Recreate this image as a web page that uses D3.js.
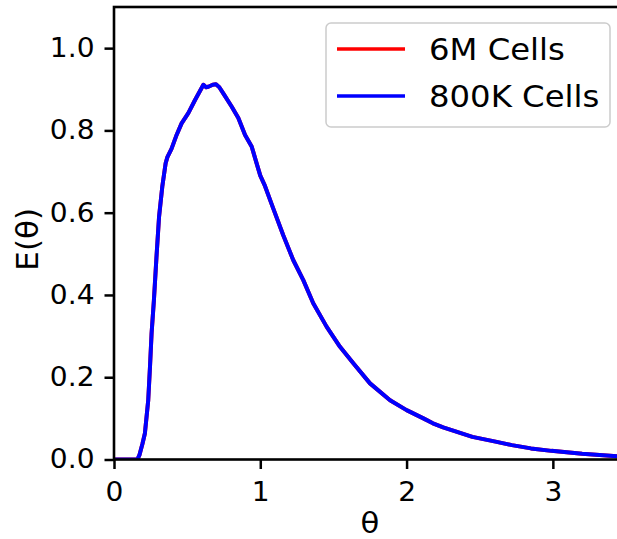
<!DOCTYPE html>
<html>
<head>
<meta charset="utf-8">
<script src="https://cdn.jsdelivr.net/npm/d3@7/dist/d3.min.js"></script>
<style>
  html, body { margin: 0; padding: 0; background: #fff; }
  svg { display: block; }
  text { font-family: "DejaVu Sans", sans-serif; fill: #000; }
</style>
</head>
<body>
<svg id="chart" width="617" height="539"></svg>
<script>
// Residence-time distribution E(θ) for two mesh resolutions
const theta = [0, 0.16, 0.175, 0.195, 0.211, 0.234, 0.246, 0.257, 0.273, 0.29, 0.308, 0.33, 0.353, 0.365,
  0.393, 0.428, 0.462, 0.508, 0.554, 0.611, 0.63, 0.645, 0.675, 0.697, 0.72, 0.747, 0.804, 0.85, 0.896,
  0.941, 0.975, 1.0, 1.032, 1.089, 1.157, 1.225, 1.294, 1.362, 1.453, 1.545, 1.636, 1.75, 1.887, 2.0,
  2.115, 2.18, 2.25, 2.45, 2.6, 2.72, 2.85, 2.99, 3.2, 3.44, 3.5];
const cells6M = [0, 0, 0.012, 0.039, 0.063, 0.144, 0.225, 0.307, 0.388, 0.49, 0.59, 0.663, 0.72, 0.735,
  0.755, 0.789, 0.817, 0.842, 0.874, 0.911, 0.905, 0.906, 0.911, 0.912, 0.905, 0.89, 0.858, 0.83, 0.789,
  0.761, 0.72, 0.69, 0.665, 0.61, 0.545, 0.485, 0.436, 0.38, 0.323, 0.274, 0.234, 0.185, 0.144, 0.12,
  0.1, 0.088, 0.078, 0.055, 0.044, 0.035, 0.027, 0.021, 0.014, 0.008, 0.007];
const cells800K = [0, 0, 0.012, 0.039, 0.063, 0.144, 0.225, 0.307, 0.388, 0.49, 0.59, 0.663, 0.72, 0.735,
  0.755, 0.789, 0.817, 0.842, 0.874, 0.911, 0.905, 0.906, 0.911, 0.912, 0.905, 0.89, 0.858, 0.83, 0.789,
  0.761, 0.72, 0.69, 0.665, 0.61, 0.545, 0.485, 0.436, 0.38, 0.323, 0.274, 0.234, 0.185, 0.144, 0.12,
  0.1, 0.088, 0.078, 0.055, 0.044, 0.035, 0.027, 0.021, 0.014, 0.008, 0.007];
const seriesNames = ["6M Cells", "800K Cells"];
const seriesColors = ["#ff0000", "#0000ff"];
const xTicks = [0, 1, 2, 3];
const yTicks = [0.0, 0.2, 0.4, 0.6, 0.8, 1.0];

const svg = d3.select("#chart");
const plot = { left: 114, right: 626, top: 7, bottom: 459.5 };
const stretch = 1.06; // glyphs are set slightly wide

// widen a text element horizontally about its own anchor x
function widen(sel) {
  sel.attr("transform", function () {
    const x0 = +this.getAttribute("x") || 0;
    return `translate(${x0 * (1 - stretch)},0) scale(${stretch},1)`;
  });
}

const x = d3.scaleLinear().domain([0, 3.5]).range([plot.left, plot.right]);
const y = d3.scaleLinear().domain([0, 1.1]).range([plot.bottom, plot.top]);

// curves
svg.append("clipPath").attr("id", "plotclip")
  .append("rect").attr("x", plot.left).attr("y", plot.top)
  .attr("width", plot.right - plot.left).attr("height", plot.bottom - plot.top);

const line = d3.line().x(d => x(d[0])).y(d => y(d[1]));
const series = [cells6M, cells800K];
series.forEach((vals, i) => {
  svg.append("path")
    .datum(theta.map((t, k) => [t, vals[k]]))
    .attr("clip-path", "url(#plotclip)")
    .attr("fill", "none")
    .attr("stroke", seriesColors[i])
    .attr("stroke-width", 4)
    .attr("stroke-linejoin", "round")
    .attr("d", line);
});

// axes
const xAxis = svg.append("g").attr("transform", `translate(0,${plot.bottom})`)
  .call(d3.axisBottom(x).tickValues(xTicks).tickFormat(d3.format("d"))
    .tickSize(9.5).tickPadding(13).tickSizeOuter(0));
const yAxis = svg.append("g").attr("transform", `translate(${plot.left},0)`)
  .call(d3.axisLeft(y).tickValues(yTicks).tickFormat(d3.format(".1f"))
    .tickSize(9.5).tickPadding(10).tickSizeOuter(0));
[xAxis, yAxis].forEach(g => {
  g.selectAll(".domain").remove();
  g.selectAll(".tick line").attr("stroke", "#000").attr("stroke-width", 2.5);
  g.selectAll(".tick text").attr("font-size", 26.5).attr("font-family", "DejaVu Sans")
    .attr("fill", "#000").call(widen);
});

// spines
svg.append("rect")
  .attr("x", plot.left).attr("y", plot.top)
  .attr("width", plot.right - plot.left).attr("height", plot.bottom - plot.top)
  .attr("fill", "none").attr("stroke", "#000").attr("stroke-width", 2.6);

// axis labels
svg.append("text")
  .attr("x", (plot.left + plot.right) / 2).attr("y", 533)
  .attr("text-anchor", "middle").attr("font-size", 29).text("θ").call(widen);
svg.append("text")
  .attr("transform", `translate(38,${(plot.top + plot.bottom) / 2 + 6}) rotate(-90)`)
  .attr("text-anchor", "middle").attr("font-size", 31).text("E(θ)");

// legend
const lg = svg.append("g");
lg.append("rect")
  .attr("x", 326).attr("y", 23).attr("width", 284).attr("height", 104).attr("rx", 5)
  .attr("fill", "#fff").attr("fill-opacity", 0.8)
  .attr("stroke", "#cccccc").attr("stroke-width", 1.5);
seriesNames.forEach((name, i) => {
  const cy = 49 + i * 47;
  lg.append("line")
    .attr("x1", 337).attr("x2", 405).attr("y1", cy).attr("y2", cy)
    .attr("stroke", seriesColors[i]).attr("stroke-width", 3.5);
  lg.append("text")
    .attr("x", 429).attr("y", cy + 11)
    .attr("font-size", 30.5).text(name).call(widen);
});
</script>
</body>
</html>
